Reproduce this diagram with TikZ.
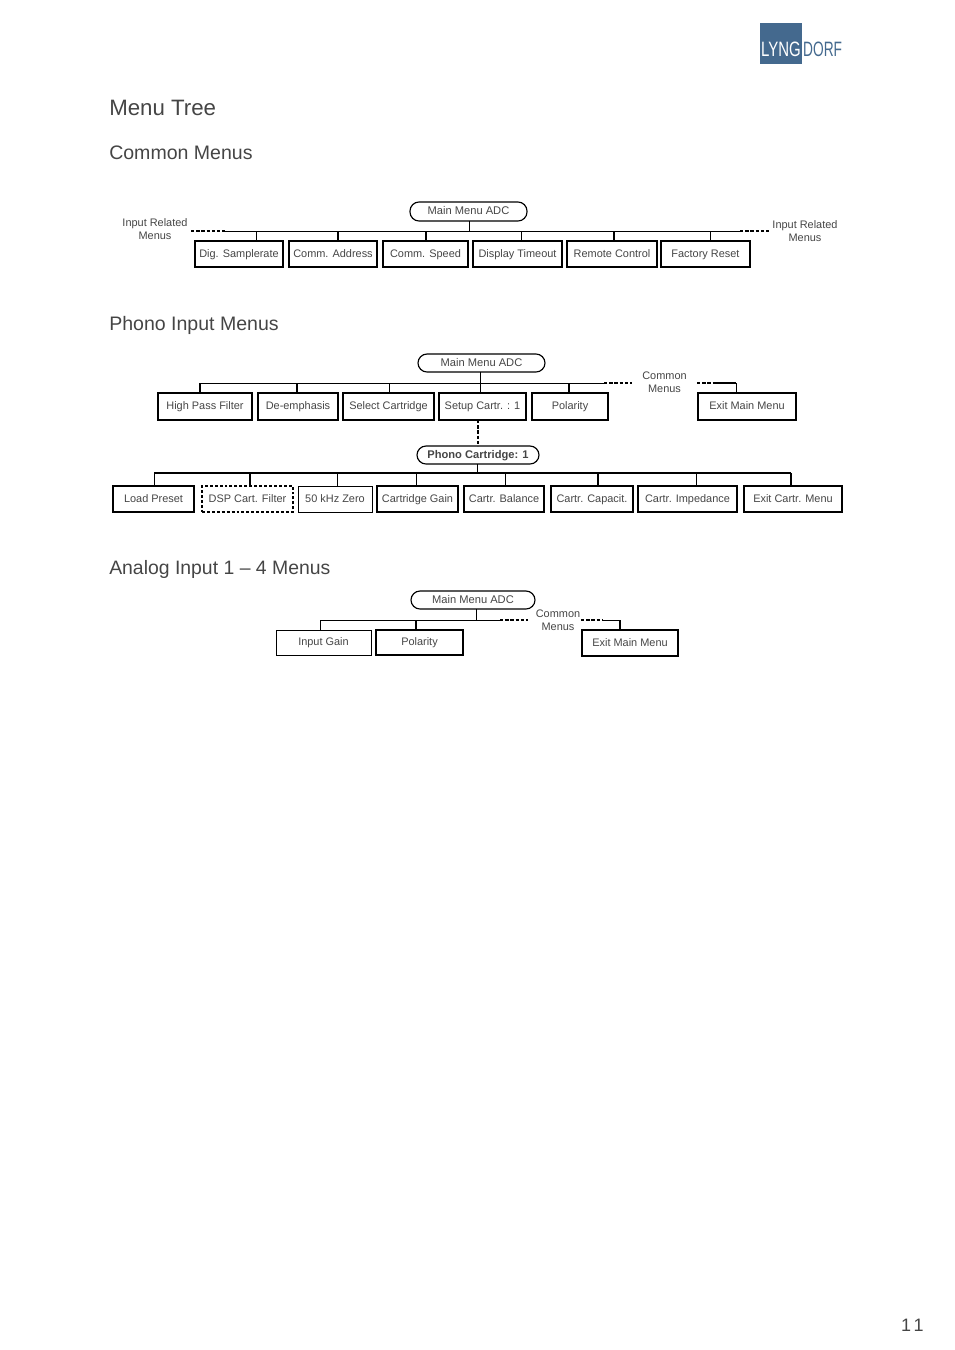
\documentclass[tikz,border=0pt]{standalone}
\usepackage{fontspec}
\setmainfont{Liberation Sans}
\definecolor{ink}{HTML}{454545}
\definecolor{logoblue}{HTML}{44698E}
\tikzset{
  x=.75pt,y=-.75pt,
  menubox/.style={draw=black,line width=.95pt,outer sep=0pt,inner sep=0pt,text=ink,font=\fontsize{8.2}{10}\selectfont,text height=6.4pt,text depth=1.4pt},
  midbox/.style={menubox,line width=.85pt},
  thinbox/.style={menubox,line width=.72pt},
  pill/.style={menubox,line width=.85pt,rounded corners=6.8pt,font=\fontsize{8.35}{10}\selectfont},
  dashbox/.style={menubox,line width=1.1pt,dash pattern=on 2.2pt off 1.5pt},
  wire/.style={line width=.75pt,black},
  thickwire/.style={line width=1.2pt,black},
  dashwire/.style={line width=1.2pt,black,dash pattern=on 2.5pt off 1.4pt},
  note/.style={inner sep=0pt,text=ink,font=\fontsize{8.2}{9.9}\selectfont,align=center},
  heading/.style={anchor=base west,inner sep=0pt,text=ink,font=\fontsize{#1}{#1}\selectfont},
}
\newcommand\mybox[6][menubox]{%
  \pgfmathsetlengthmacro\bw{(#4-#2)*.75pt}%
  \pgfmathsetlengthmacro\bh{(#5-#3)*.75pt}%
  \node[#1,minimum width=\bw,minimum height=\bh] (#6) at ({(#2+#4)/2},{(#3+#5)/2})}
\begin{document}
\begin{tikzpicture}
\useasboundingbox (0,0) rectangle (954,1350);
% logo
\node[fill=logoblue,inner sep=0pt,outer sep=0pt,minimum width=31.5pt,minimum height=30.75pt] (logo) at (781,43.5) {};
\node[anchor=base west,inner sep=0pt,text=white,font=\fontsize{15.6}{16}\selectfont,xscale=.72] (lyng) at (761,56.5) {LYNG};
\node[anchor=base west,inner sep=0pt,text=logoblue,font=\fontsize{15.6}{16}\selectfont,xscale=.66] (dorf) at (803,56.5) {DORF};
% headings
\node[heading=16.7] (h1) at (109,115) {Menu Tree};
\node[heading=14.65] (h2) at (109,159) {Common Menus};
\node[heading=14.65] (h3) at (109,330) {Phono Input Menus};
\node[heading=14.55] (h4) at (109,574) {Analog Input 1 – 4 Menus};
\node[anchor=base east,inner sep=0pt,text=ink,font=\fontsize{13.5}{14}\selectfont] (pg) at (924,1331) {1\hspace{2pt}1};

% ---- Common menus
\mybox[pill]{410}{202}{527}{221}{m1} {Main Menu ADC};
\mybox{195}{241}{283}{267}{a1} {Dig. Samplerate};
\mybox{289}{241}{377}{267}{a2} {Comm. Address};
\mybox{383}{241}{468}{267}{a3} {Comm. Speed};
\mybox{473}{241}{562}{267}{a4} {Display Timeout};
\mybox{567}{241}{657}{267}{a5} {Remote Control};
\mybox{661}{241}{750}{267}{a6} {Factory Reset};
\node[note] (n1) at (155,229) {Input Related\\Menus};
\node[note] (n2) at (805,231) {Input Related\\Menus};
\coordinate (b1l) at (225,231);
\coordinate (b1r) at (740,231);
\coordinate (d1l) at (191,231);
\coordinate (d1r) at (769,231);
\coordinate (s1) at (469,231);
\draw[dashwire] (d1l) -- (b1l);
\draw[dashwire] (b1r) -- (d1r);
\draw[wire] (b1l) -- (b1r);
\draw[wire] (m1.south -| s1) -- (s1);
\foreach \n/\x/\w in {a1/256/wire,a2/338/thickwire,a3/426/thickwire,a4/521/wire,a5/614/thickwire,a6/710/wire}
  \draw[\w] (\x,231) -- (\n.north -| {\x,231});

% ---- Phono input menus
\mybox[pill]{418}{354}{545}{372}{m2} {Main Menu ADC};
\mybox[midbox]{158}{393}{252}{420}{c1} {High Pass Filter};
\mybox[midbox]{258}{393}{338}{420}{c2} {De-emphasis};
\mybox[midbox]{343}{393}{434}{420}{c3} {Select Cartridge};
\mybox[midbox]{439}{393}{526}{420}{c4} {Setup Cartr. : 1};
\mybox[midbox]{532}{393}{608}{420}{c5} {Polarity};
\mybox[midbox]{698}{393}{796}{420}{c6} {Exit Main Menu};
\node[note] (n3) at (664.5,382) {Common\\Menus};
\coordinate (b2l) at (200,383);
\coordinate (b2m) at (604,383);
\coordinate (d2m) at (632,383);
\coordinate (d2r) at (697,383);
\coordinate (b2r) at (715,383);
\coordinate (b2e) at (736,383);
\draw[wire] (b2l) -- (b2m);
\draw[dashwire] (b2m) -- (d2m);
\draw[dashwire] (d2r) -- (b2r);
\draw[thickwire] (b2r) -- (b2e);
\draw[wire] (m2.south -| 480,383) -- (480,383);
\foreach \n/\x/\w in {c1/200/thickwire,c2/297/thickwire,c3/389/wire,c4/480/wire,c5/569/thickwire,c6/736/wire}
  \draw[\w] (\x,383) -- (\n.north -| {\x,383});

\mybox[pill]{417}{446}{539}{464}{m3} {\bfseries Phono Cartridge: 1};
\draw[dashwire] (478,420) coordinate (t3) -- (t3 |- m3.north);
\mybox{113}{486}{194}{512}{e1} {Load Preset};
\mybox[dashbox]{202}{486}{293}{512}{e2} {DSP Cart. Filter};
\mybox[thinbox]{298}{486}{372}{512}{e3} {50 kHz Zero};
\mybox{377}{486}{458}{512}{e4} {Cartridge Gain};
\mybox[midbox]{464}{486}{544}{512}{e5} {Cartr. Balance};
\mybox[midbox]{551}{486}{633}{512}{e6} {Cartr. Capacit.};
\mybox[midbox]{638}{486}{737}{512}{e7} {Cartr. Impedance};
\mybox[midbox]{744}{486}{842}{512}{e8} {Exit Cartr. Menu};
\coordinate (b3l) at (154,473);
\coordinate (b3r) at (791,473);
\draw[thickwire] (b3l) -- (b3r);
\draw[wire] (m3.south -| 477,473) -- (477,473);
\foreach \n/\x/\w in {e1/154/wire,e2/250/thickwire,e3/337/wire,e4/416/wire,e5/505/wire,e6/598/thickwire,e7/696/wire,e8/791/thickwire}
  \draw[\w] (\x,473) -- (\n.north -| {\x,473});

% ---- Analog input menus
\mybox[pill]{411}{591}{535}{609}{m4} {Main Menu ADC};
\mybox[thinbox]{276}{630}{371}{655}{f1} {Input Gain};
\mybox[midbox]{376}{630}{463}{655}{f2} {Polarity};
\mybox[midbox]{582}{630}{678}{656}{f3} {Exit Main Menu};
\node[note] (n4) at (558,620) {Common\\Menus};
\coordinate (b4l) at (320,620);
\coordinate (b4m) at (500,620);
\coordinate (d4m) at (528,620);
\coordinate (d4r) at (581,620);
\coordinate (b4r) at (602,620);
\coordinate (b4e) at (620,620);
\draw[wire] (b4l) -- (b4m);
\draw[dashwire] (b4m) -- (d4m);
\draw[dashwire] (d4r) -- (b4r);
\draw[wire] (b4r) -- (b4e);
\draw[wire] (m4.south -| 476,620) -- (476,620);
\foreach \n/\x/\w in {f1/320/wire,f2/416/thickwire,f3/620/thickwire}
  \draw[\w] (\x,620) -- (\n.north -| {\x,620});
\end{tikzpicture}
\end{document}
